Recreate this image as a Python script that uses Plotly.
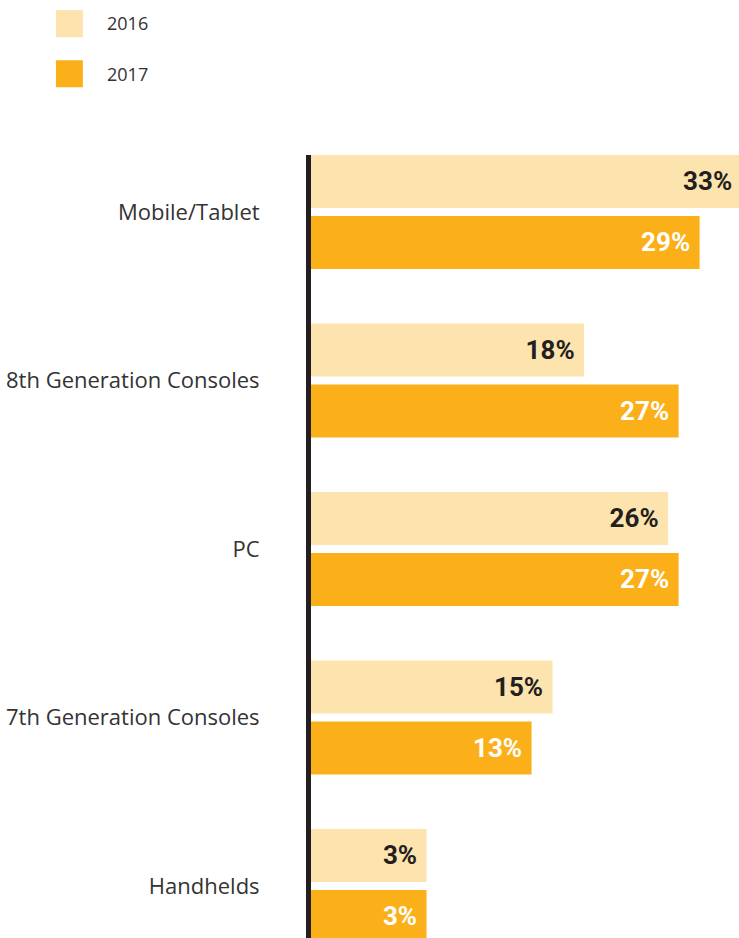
import plotly.graph_objects as go

categories = ["Mobile/Tablet", "8th Generation Consoles", "PC",
              "7th Generation Consoles", "Handhelds"]
years = ["2016", "2017"]
share_2016 = [33, 18, 26, 15, 3]
share_2017 = [29, 27, 27, 13, 3]

# bars in the original start a little left of zero to leave room for labels
LEAD = 8
colors = ["#fde3ae", "#fbb01a"]
label_colors = ["#231f20", "#ffffff"]

fig = go.Figure()
for name, vals, col, tcol in zip(years, [share_2016, share_2017], colors, label_colors):
    fig.add_trace(go.Bar(
        y=categories,
        x=[v + LEAD for v in vals],
        base=-LEAD,
        orientation="h",
        name=name,
        marker=dict(color=col, line=dict(width=0)),
        text=[f"{v}%\u00a0" for v in vals],
        textposition="inside",
        insidetextanchor="end",
        textfont=dict(family="Roboto, sans-serif", size=26, color=tcol, weight="bold"),
        constraintext="none",
        showlegend=False,
        hoverinfo="skip",
    ))

# legend drawn by hand so the swatches can be big
for i, (name, col) in enumerate(zip(years, colors)):
    top = 1.185 - i * 0.064
    fig.add_shape(type="rect", xref="paper", yref="paper",
                  x0=-0.596, x1=-0.533, y0=top - 0.0345, y1=top,
                  fillcolor=col, line=dict(width=0))
    fig.add_annotation(xref="paper", yref="paper", x=-0.481, y=top - 0.017,
                       text=name, showarrow=False, xanchor="left", yanchor="middle",
                       font=dict(family="Open Sans", size=18, color="#333333"))

fig.update_layout(
    width=739, height=938,
    margin=dict(l=311, r=0, t=155, b=0),
    paper_bgcolor="white", plot_bgcolor="white",
    barmode="group", bargap=0.276, bargroupgap=0.131,
)
fig.update_xaxes(range=[-LEAD, 32.75], visible=False)
fig.update_yaxes(
    type="category", categoryorder="array", categoryarray=categories,
    range=[4.309, -0.338],
    showline=True, linecolor="#231f20", linewidth=5,
    showgrid=False, zeroline=False, ticks="",
    ticklabelstandoff=42,
    tickfont=dict(family="Open Sans", size=22, color="#333333"),
)

# drop the default body margin so the figure fills the window exactly
fig.write_html("out.html", config={"displayModeBar": False},
               post_script="document.body.style.margin='0';document.body.style.overflow='hidden';")
